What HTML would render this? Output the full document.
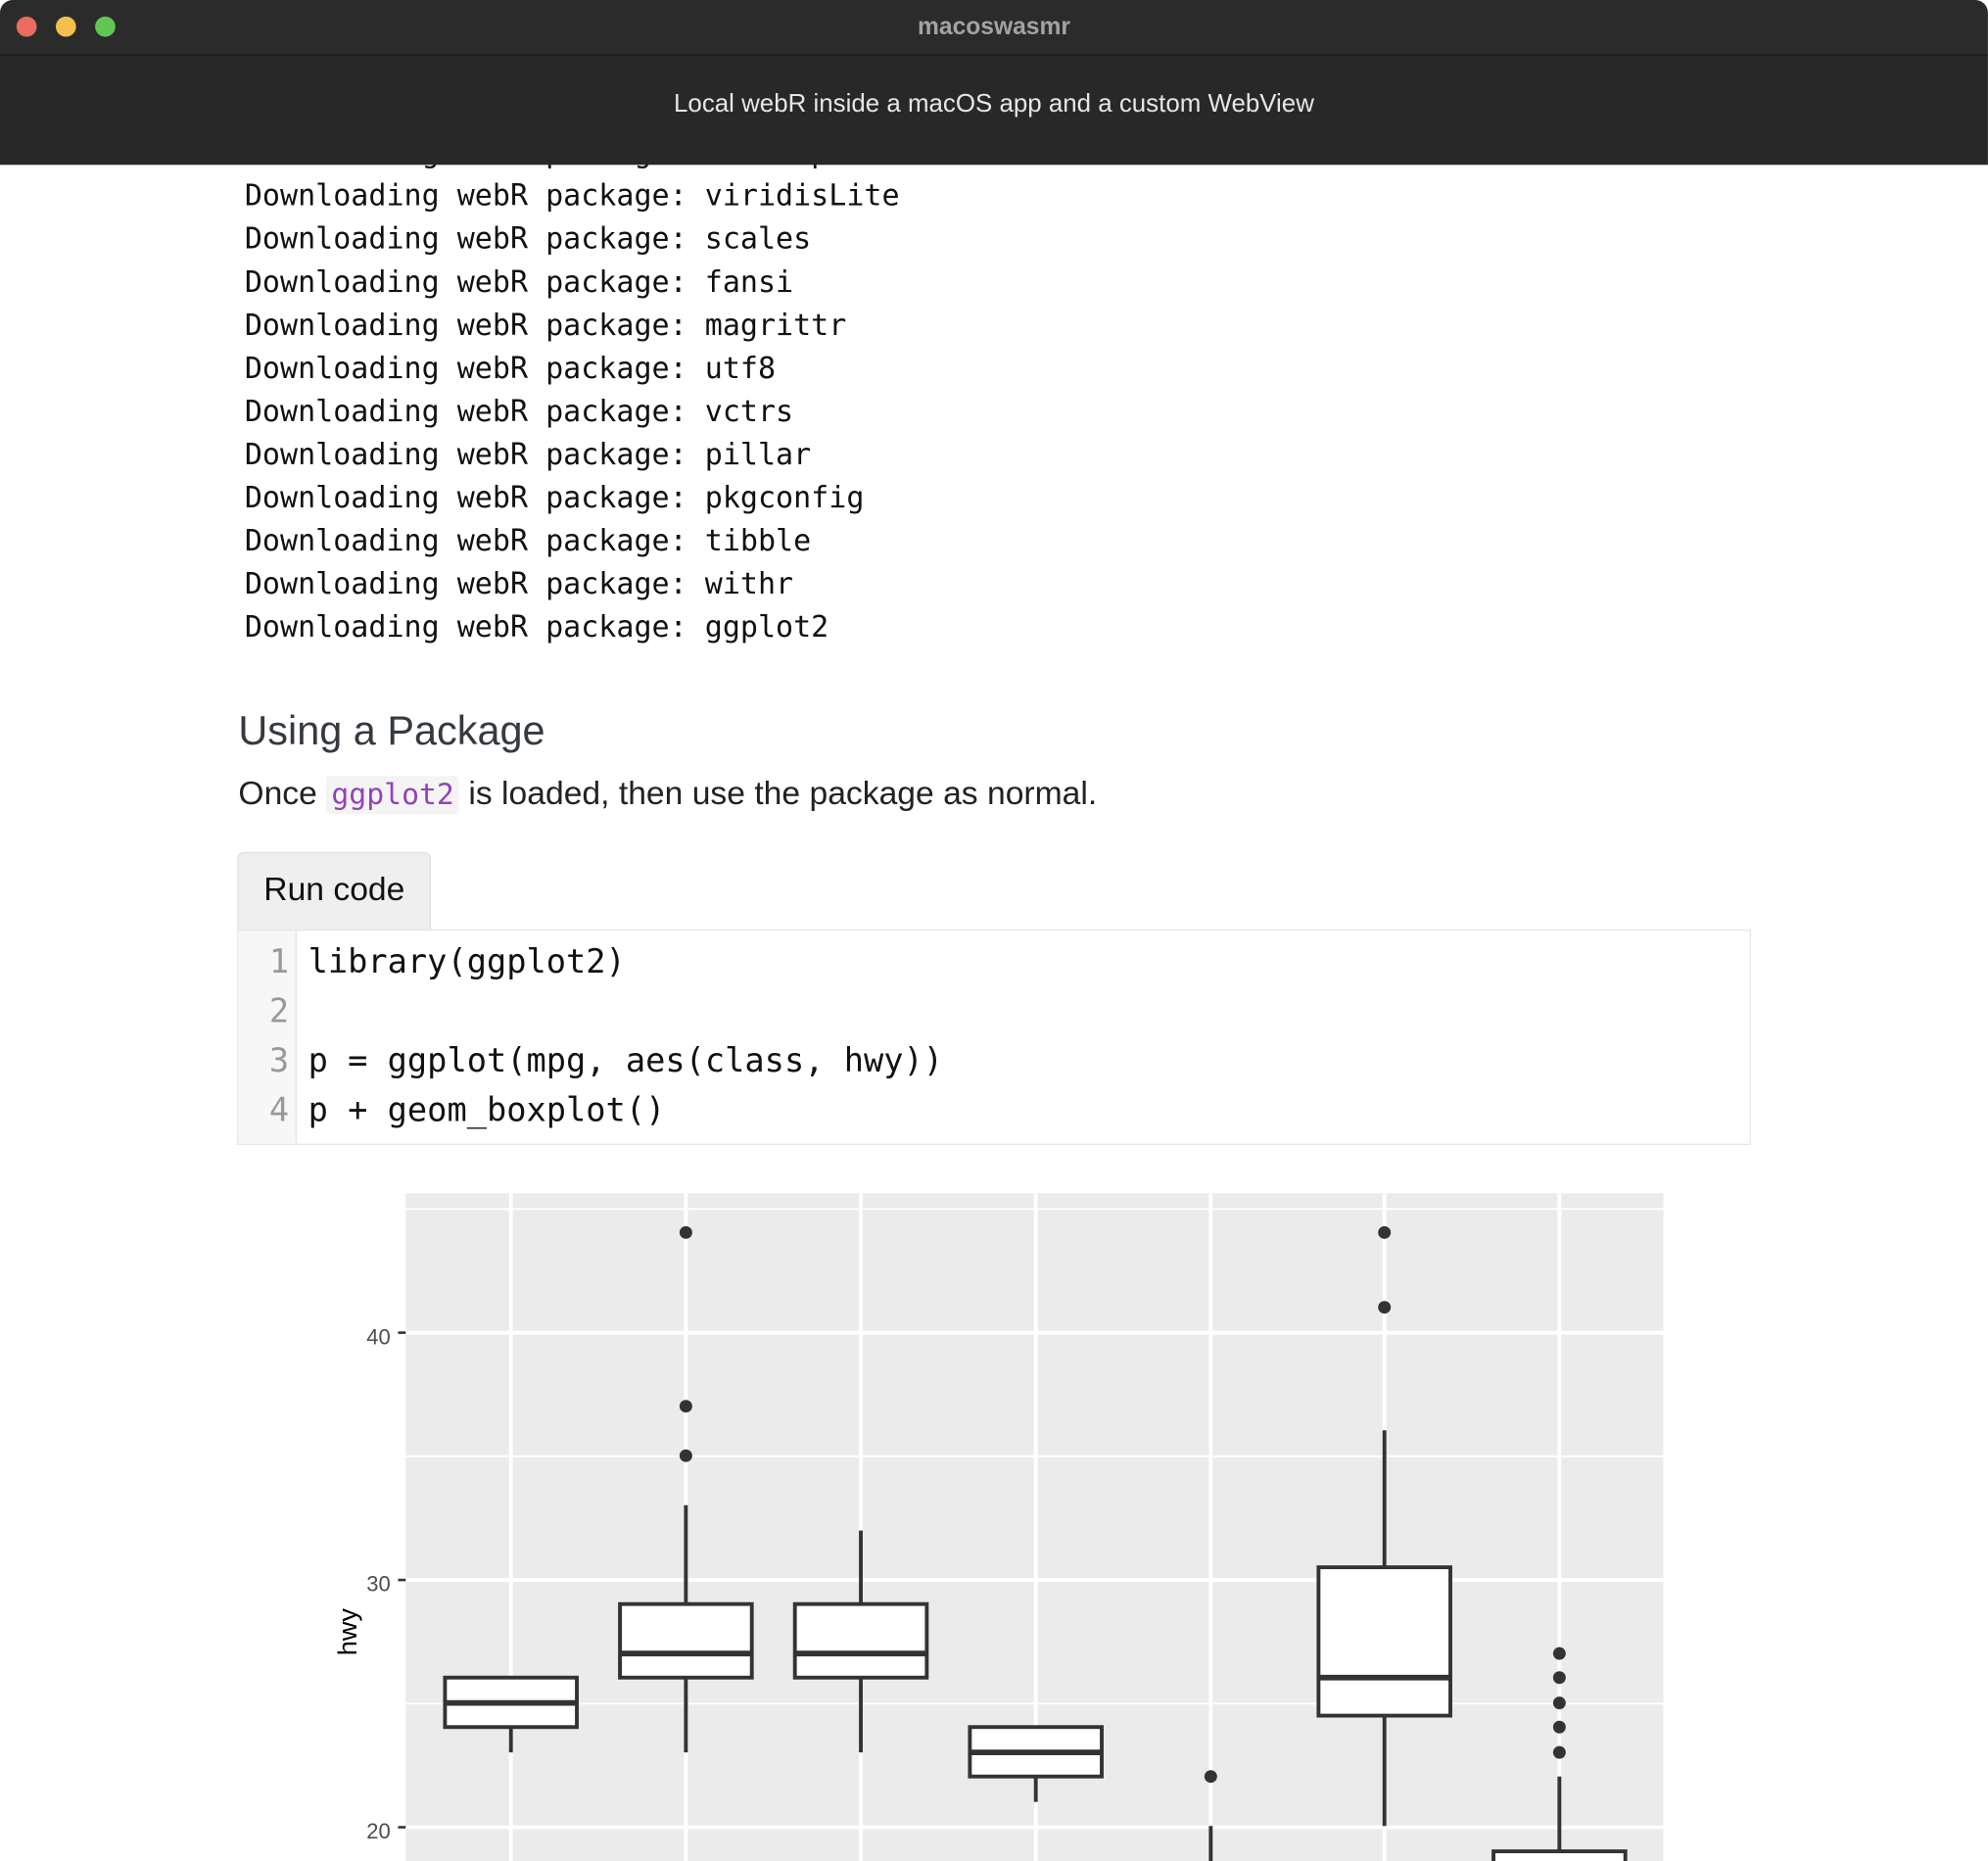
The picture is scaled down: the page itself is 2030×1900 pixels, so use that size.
<!DOCTYPE html>
<html><head><meta charset="utf-8"><style>
html,body{margin:0;padding:0;width:2030px;height:1900px;overflow:hidden;background:#fff}
#s{position:absolute;left:0;top:0;width:1568px;height:1468px;transform:scale(1.2946);transform-origin:0 0;font-family:"Liberation Sans",sans-serif}
.mono{font-family:"DejaVu Sans Mono","Liberation Mono",monospace}
.ln{position:absolute;left:193px;font-size:23.2px;color:#111;white-space:pre;line-height:34px}
</style></head><body><div id="s">
<div class="mono ln" style="top:104px">Downloading webR package: colorspace</div>
<div class="mono ln" style="top:138px">Downloading webR package: viridisLite</div>
<div class="mono ln" style="top:172px">Downloading webR package: scales</div>
<div class="mono ln" style="top:206px">Downloading webR package: fansi</div>
<div class="mono ln" style="top:240px">Downloading webR package: magrittr</div>
<div class="mono ln" style="top:274px">Downloading webR package: utf8</div>
<div class="mono ln" style="top:308px">Downloading webR package: vctrs</div>
<div class="mono ln" style="top:342px">Downloading webR package: pillar</div>
<div class="mono ln" style="top:376px">Downloading webR package: pkgconfig</div>
<div class="mono ln" style="top:410px">Downloading webR package: tibble</div>
<div class="mono ln" style="top:444px">Downloading webR package: withr</div>
<div class="mono ln" style="top:478px">Downloading webR package: ggplot2</div>

<div style="position:absolute;left:0;top:0;width:1568px;height:43px;background:#2b2b2b;border-radius:10px 10px 0 0;border-bottom:1px solid #111"></div>
<div style="position:absolute;left:13px;top:13px;width:16px;height:16px;border-radius:50%;background:#ec6a5e"></div>
<div style="position:absolute;left:44px;top:13px;width:16px;height:16px;border-radius:50%;background:#f4bf4f"></div>
<div style="position:absolute;left:75px;top:13px;width:16px;height:16px;border-radius:50%;background:#61c554"></div>
<div style="position:absolute;left:0;top:11px;width:1568px;text-align:center;color:#a3a3a3;font-weight:bold;font-size:19px">macoswasmr</div>
<div style="position:absolute;left:0;top:44px;width:1568px;height:86px;background:#282828"></div>
<div style="position:absolute;left:0;top:71px;width:1568px;text-align:center;color:#e6e6e6;font-size:20px">Local webR inside a macOS app and a custom WebView</div>

<div style="position:absolute;left:188px;top:558px;font-size:32px;color:#343a40;font-weight:500">Using a Package</div>
<div style="position:absolute;left:188px;top:610px;font-size:26px;color:#222;white-space:pre">Once <span class="mono" style="color:#9441b8;background:#f4f4f4;font-size:23px;padding:2px 4px;border-radius:3px">ggplot2</span> is loaded, then use the package as normal.</div>

<div style="position:absolute;left:187px;top:672px;width:151px;height:60px;background:#efefef;border:1px solid #e0e0e0;border-bottom:none;border-radius:5px 5px 0 0"></div>
<div style="position:absolute;left:208px;top:686px;font-size:26px;color:#111">Run code</div>
<div style="position:absolute;left:187px;top:733px;width:1192px;height:168px;border:1px solid #e6e6e6;background:#fff"></div>
<div style="position:absolute;left:188px;top:734px;width:45px;height:168px;background:#f7f7f7;border-right:1px solid #e3e3e3"></div>
<div class="mono" style="position:absolute;left:188px;top:740px;width:40px;text-align:right;font-size:26px;line-height:39px;color:#999">1<br>2<br>3<br>4</div>
<div class="mono" style="position:absolute;left:243px;top:740px;font-size:26px;line-height:39px;color:#111;white-space:pre">library(ggplot2)

p = ggplot(mpg, aes(class, hwy))
p + geom_boxplot()</div>

<svg style="position:absolute;left:0;top:0" width="1568" height="1468">
<rect x="320" y="941" width="992" height="527" fill="#ebebeb"/>
<g stroke="#fff" stroke-width="1.5">
<line x1="320" x2="1312" y1="953.5" y2="953.5"/><line x1="320" x2="1312" y1="1148.5" y2="1148.5"/><line x1="320" x2="1312" y1="1343.5" y2="1343.5"/>
</g>
<g stroke="#fff" stroke-width="3">
<line x1="320" x2="1312" y1="1051" y2="1051"/><line x1="320" x2="1312" y1="1246" y2="1246"/><line x1="320" x2="1312" y1="1441" y2="1441"/>
<line y1="941" y2="1468" x1="403" x2="403"/><line y1="941" y2="1468" x1="541" x2="541"/><line y1="941" y2="1468" x1="679" x2="679"/><line y1="941" y2="1468" x1="817" x2="817"/><line y1="941" y2="1468" x1="955" x2="955"/><line y1="941" y2="1468" x1="1092" x2="1092"/><line y1="941" y2="1468" x1="1230" x2="1230"/>
</g>
<g stroke="#333" stroke-width="2"><line x1="314" x2="320" y1="1051" y2="1051"/><line x1="314" x2="320" y1="1246" y2="1246"/><line x1="314" x2="320" y1="1441" y2="1441"/></g>
<g font-family="Liberation Sans,sans-serif" font-size="17" fill="#4d4d4d" text-anchor="end"><text x="308" y="1060">40</text><text x="308" y="1255">30</text><text x="308" y="1450">20</text></g>
<text transform="translate(281,1287) rotate(-90)" font-family="Liberation Sans,sans-serif" font-size="21" text-anchor="middle" fill="#000">hwy</text>
<g stroke="#333" stroke-width="3" fill="#fff">
<line x1="403" x2="403" y1="1362" y2="1382"/><rect x="351" y="1323" width="104" height="39"/><line x1="351" x2="455" y1="1343" y2="1343" stroke-width="4.5"/>
<line x1="541" x2="541" y1="1187" y2="1382"/><rect x="489" y="1265" width="104" height="58"/><line x1="489" x2="593" y1="1304" y2="1304" stroke-width="4.5"/>
<line x1="679" x2="679" y1="1207" y2="1382"/><rect x="627" y="1265" width="104" height="58"/><line x1="627" x2="731" y1="1304" y2="1304" stroke-width="4.5"/>
<line x1="817" x2="817" y1="1401" y2="1421"/><rect x="765" y="1362" width="104" height="39"/><line x1="765" x2="869" y1="1382" y2="1382" stroke-width="4.5"/>
<line x1="955" x2="955" y1="1440" y2="1470"/>
<line x1="1092" x2="1092" y1="1128" y2="1440"/><rect x="1040" y="1236" width="104" height="117"/><line x1="1040" x2="1144" y1="1323" y2="1323" stroke-width="4.5"/>
<line x1="1230" x2="1230" y1="1401" y2="1460"/><rect x="1178" y="1460" width="104" height="30"/>
</g>
<g fill="#333">
<circle cx="541" cy="972" r="5"/><circle cx="541" cy="1109" r="5"/><circle cx="541" cy="1148" r="5"/>
<circle cx="955" cy="1401" r="5"/>
<circle cx="1092" cy="972" r="5"/><circle cx="1092" cy="1031" r="5"/>
<circle cx="1230" cy="1304" r="5"/><circle cx="1230" cy="1323" r="5"/><circle cx="1230" cy="1343" r="5"/><circle cx="1230" cy="1362" r="5"/><circle cx="1230" cy="1382" r="5"/>
</g>
</svg>
</div></body></html>
